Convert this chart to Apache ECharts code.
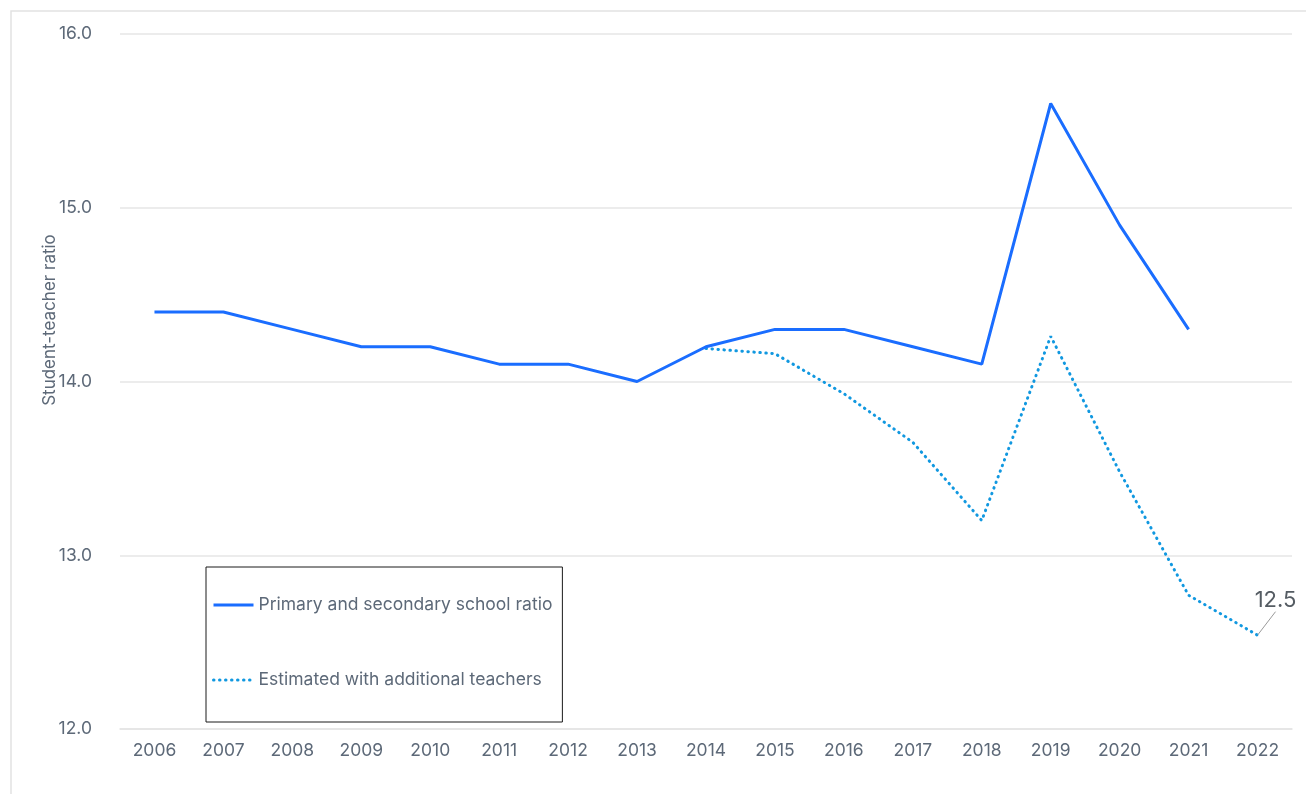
<!DOCTYPE html>
<html>
<head>
<meta charset="utf-8">
<script src="https://cdn.jsdelivr.net/npm/echarts@6/dist/echarts.min.js"></script>
<style>
  html, body { margin: 0; padding: 0; background: #fff; }
  #chart { width: 1306px; height: 794px; }
</style>
</head>
<body>
<div id="chart"></div>
<script>
// Student-teacher ratio, 2006–2022
const years = ['2006','2007','2008','2009','2010','2011','2012','2013','2014','2015','2016','2017','2018','2019','2020','2021','2022'];
const schoolRatio = [14.4, 14.4, 14.3, 14.2, 14.2, 14.1, 14.1, 14.0, 14.2, 14.3, 14.3, 14.2, 14.1, 15.6, 14.9, 14.3, null];
const withAdditionalTeachers = [null, null, null, null, null, null, null, null, 14.19, 14.16, 13.93, 13.65, 13.2, 14.26, 13.48, 12.77, 12.54];
const yTicks = { min: 12, max: 16, step: 1 };

const textColor = '#5d6978';
const fontFamily = 'Inter, "Noto Sans", sans-serif';
const lastIndex = years.length - 1;

const chart = echarts.init(document.getElementById('chart'), null, { renderer: 'canvas' });

chart.setOption({
  backgroundColor: '#fff',
  animation: false,
  grid: { left: 120, right: 14, top: 34, bottom: 65 },
  graphic: [
    {
      type: 'rect',
      shape: { x: 11, y: 11, width: 1400, height: 900 },
      style: { fill: 'none', stroke: '#e2e2e2', lineWidth: 1.5 },
      silent: true
    },
    {
      type: 'text',
      x: 50, y: 320,
      rotation: Math.PI / 2,
      style: {
        text: 'Student-teacher ratio',
        fill: textColor,
        font: '17px ' + fontFamily,
        align: 'center',
        verticalAlign: 'middle'
      }
    }
  ],
  legend: {
    orient: 'vertical',
    left: 206,
    top: 567,
    padding: [29, 10, 33, 6],
    itemGap: 57,
    itemWidth: 40,
    itemHeight: 14,
    borderColor: '#1a1a1a',
    borderWidth: 1,
    itemStyle: { opacity: 0 },
    lineStyle: { width: 3 },
    textStyle: { color: textColor, fontSize: 17.5, fontFamily: fontFamily },
    data: ['Primary and secondary school ratio', 'Estimated with additional teachers']
  },
  xAxis: {
    type: 'category',
    data: years,
    boundaryGap: true,
    axisLine: { show: true, lineStyle: { color: '#e3e3e3', width: 1.5 } },
    axisTick: { show: false },
    axisLabel: { color: textColor, fontSize: 17.5, fontFamily: fontFamily, margin: 13 }
  },
  yAxis: {
    type: 'value',
    min: yTicks.min,
    max: yTicks.max,
    interval: yTicks.step,
    axisLine: { show: false },
    axisTick: { show: false },
    splitLine: { lineStyle: { color: '#e6e6e6', width: 1.5 } },
    axisLabel: {
      color: textColor, fontSize: 17.5, fontFamily: fontFamily, margin: 28,
      formatter: v => v.toFixed(1)
    }
  },
  series: [
    {
      name: 'Primary and secondary school ratio',
      type: 'line',
      data: schoolRatio,
      symbol: 'none',
      connectNulls: false,
      lineStyle: { color: '#1a6dff', width: 3 },
      itemStyle: { color: '#1a6dff' },
      z: 3
    },
    {
      name: 'Estimated with additional teachers',
      type: 'line',
      data: withAdditionalTeachers.map((v, i) => i === lastIndex
        ? {
            value: v,
            symbol: 'circle',
            symbolSize: 1,
            itemStyle: { color: 'rgba(0,0,0,0)' },
            label: {
              show: true,
              position: 'top',
              formatter: p => p.value.toFixed(1),
              color: '#555c63',
              fontSize: 22,
              fontFamily: fontFamily
            },
            labelLine: { show: true, lineStyle: { color: '#9a9a9a', width: 1 } }
          }
        : { value: v, symbol: 'none' }),
      showSymbol: true,
      symbol: 'none',
      lineStyle: { color: '#1198e0', width: 3, type: [0.5, 5.5], cap: 'round' },
      itemStyle: { color: '#1198e0' },
      labelLayout: { dx: 18, dy: -18 },
      z: 2
    }
  ]
});
</script>
</body>
</html>
